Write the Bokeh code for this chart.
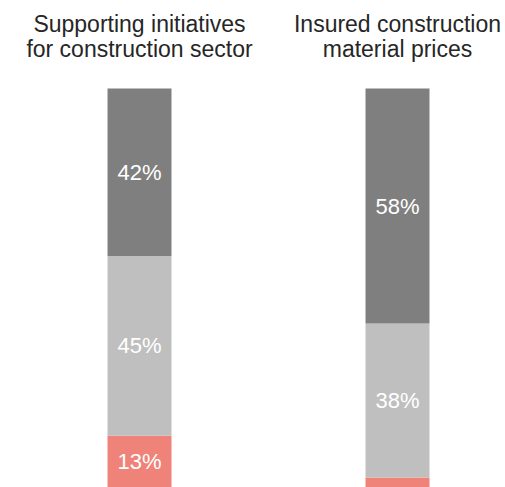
from bokeh.plotting import figure
from bokeh.models import ColumnDataSource, Range1d, Label
from bokeh.embed import file_html
from bokeh.resources import INLINE
from bokeh.core.properties import value

categories = ["Supporting initiatives\nfor construction sector",
              "Insured construction\nmaterial prices"]
bottom_vals = [13, 2.5]     # salmon
middle_vals = [45, 38.6]    # light gray
top_vals = [42, 58.9]       # dark gray
bottom_labels = ["13%", ""]
middle_labels = ["45%", "38%"]
top_labels = ["42%", "58%"]

colors = ["#ef8379", "#bfbfbf", "#7f7f7f"]
FONT = "Liberation Sans"

xs = list(range(len(categories)))
W, H = 505, 487

p = figure(width=W, height=H, output_backend="svg", toolbar_location=None,
           x_range=Range1d(-0.5388, 1.4186), y_range=Range1d(0, 122.06),
           min_border=0, outline_line_color=None)
p.axis.visible = False
p.grid.visible = False
p.background_fill_color = "white"
p.border_fill_color = "white"

series = [bottom_vals, middle_vals, top_vals]
labels = [bottom_labels, middle_labels, top_labels]
base = [0.0] * len(xs)
for vals, labs, col in zip(series, labels, colors):
    tops = [b + v for b, v in zip(base, vals)]
    mids = [(b + t) / 2 for b, t in zip(base, tops)]
    src = ColumnDataSource(dict(x=xs, bottom=base, top=tops, mid=mids, lab=labs))
    p.vbar(x="x", width=0.248, bottom="bottom", top="top", source=src,
           fill_color=col, line_color=None)
    p.text(x="x", y="mid", text="lab", source=src, text_color="white",
           text_font=value(FONT), text_font_size="22px",
           text_align="center", text_baseline="middle")
    base = tops

for x, cat in zip(xs, categories):
    for i, line in enumerate(cat.split("\n")):
        p.add_layout(Label(x=x, y=464 - 25 * i, y_units="screen", text=line,
                           text_font=FONT, text_font_size="23px",
                           text_color="#262626", text_align="center",
                           text_baseline="alphabetic"))

open("out.html", "w").write(file_html(p, INLINE))
